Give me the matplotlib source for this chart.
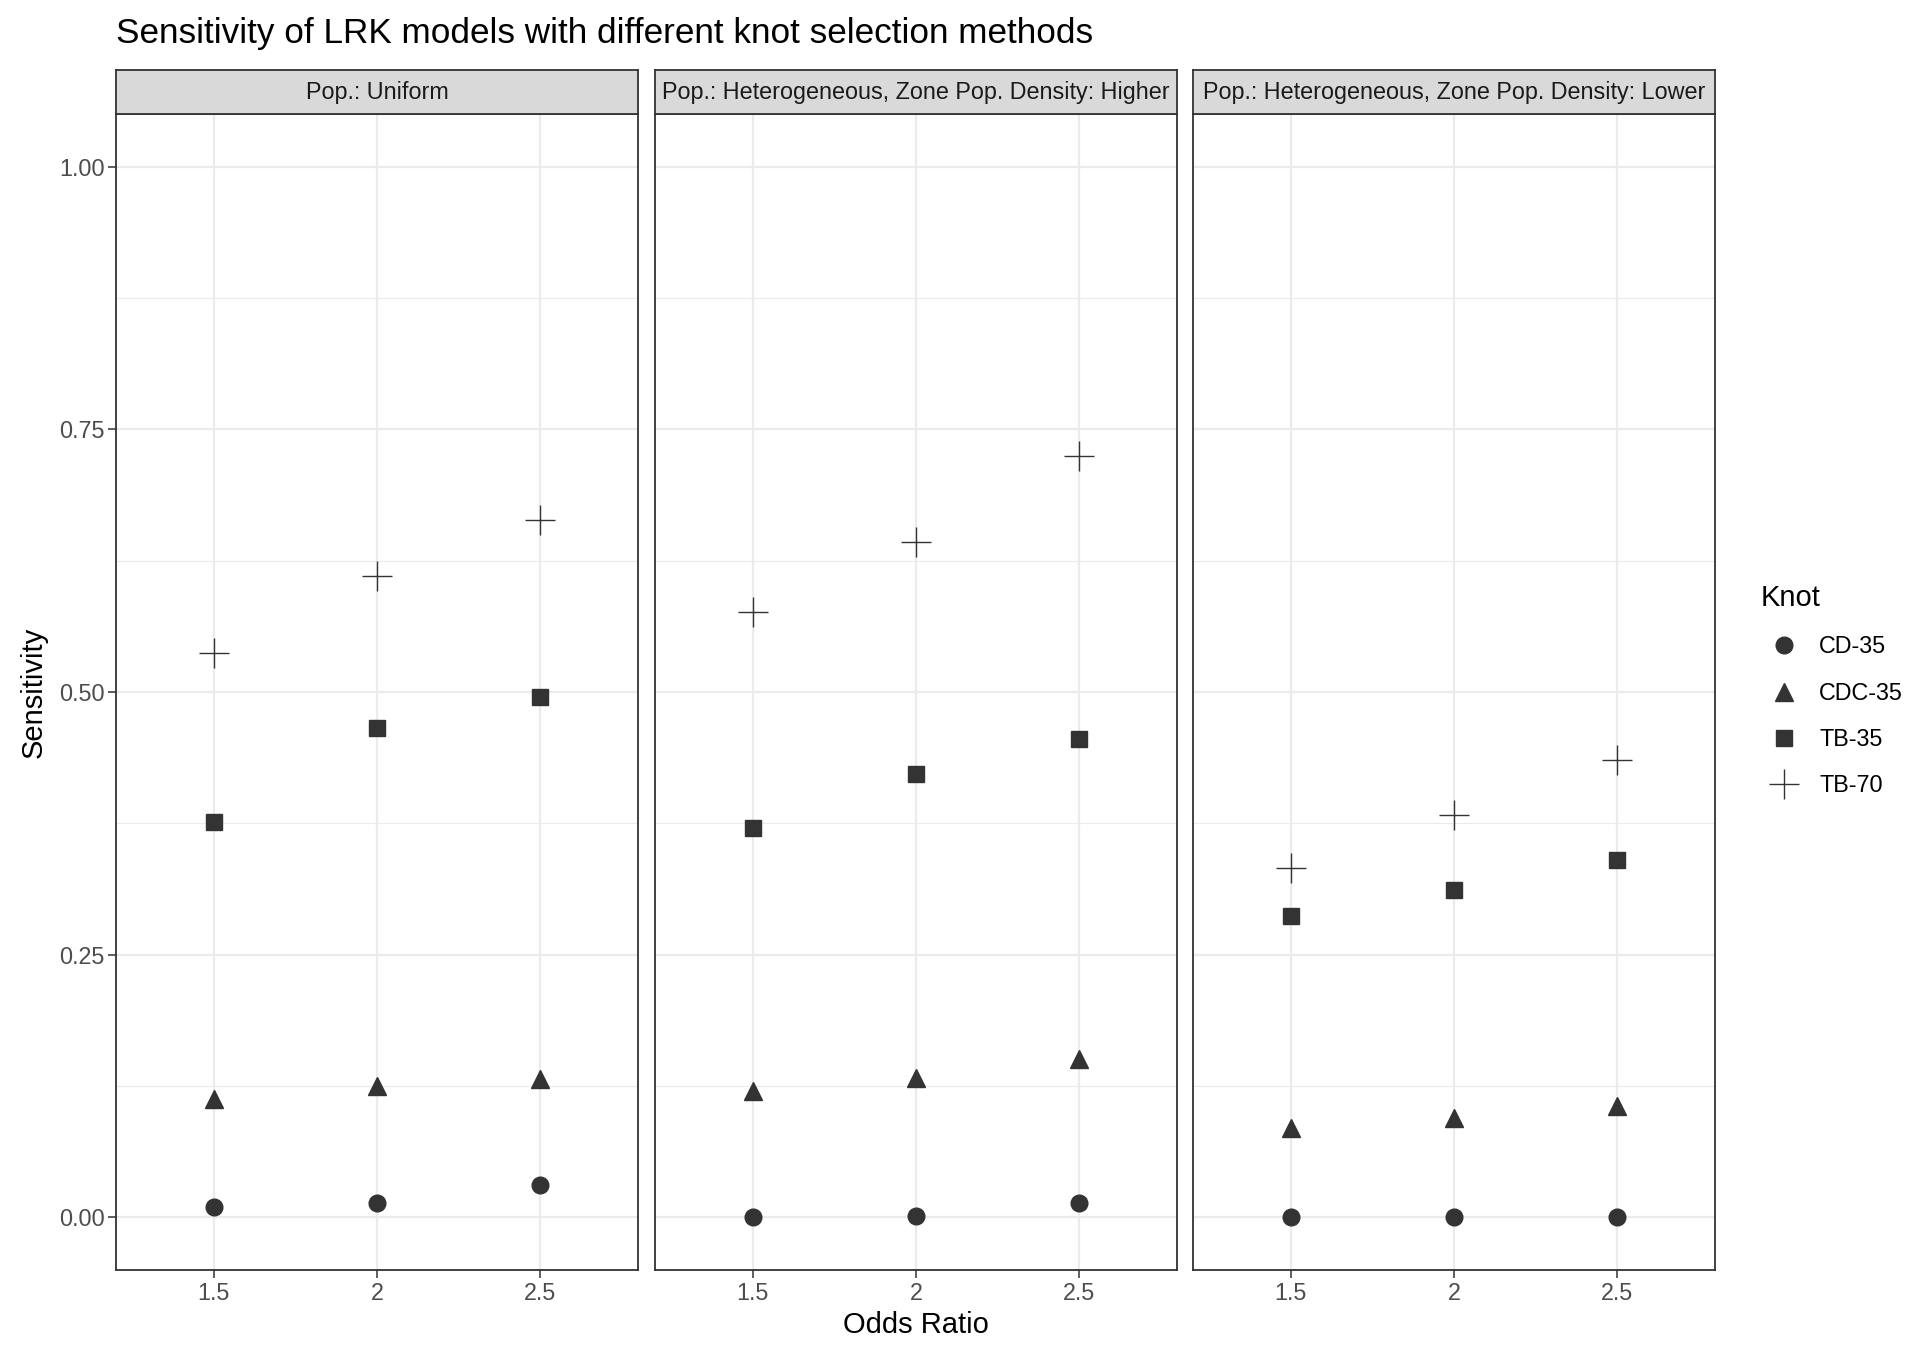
import numpy as np
import matplotlib
matplotlib.use('Agg')
import matplotlib.pyplot as plt
from matplotlib.lines import Line2D

plt.rcParams['font.family'] = ['Liberation Sans', 'DejaVu Sans']

odds = ['1.5', '2', '2.5']
panels = ['Pop.: Uniform',
          'Pop.: Heterogeneous, Zone Pop. Density: Higher',
          'Pop.: Heterogeneous, Zone Pop. Density: Lower']
knots = ['CD-35', 'CDC-35', 'TB-35', 'TB-70']

# sensitivity per panel, per knot, per odds ratio
cd35 = [[0.010, 0.014, 0.031], [0.000, 0.001, 0.014], [0.000, 0.000, 0.000]]
cdc35 = [[0.113, 0.125, 0.132], [0.120, 0.133, 0.151], [0.085, 0.095, 0.106]]
tb35 = [[0.376, 0.466, 0.495], [0.371, 0.422, 0.455], [0.287, 0.312, 0.340]]
tb70 = [[0.537, 0.610, 0.664], [0.576, 0.643, 0.725], [0.333, 0.383, 0.435]]

series = [cd35, cdc35, tb35, tb70]
mk = {'CD-35': dict(marker='o', ms=12),
      'CDC-35': dict(marker='^', ms=13),
      'TB-35': dict(marker='s', ms=11.5),
      'TB-70': dict(marker='+', ms=22, mew=1.0)}
col = '#333333'

fig = plt.figure(figsize=(19.2, 13.54), dpi=100)
lefts = [116, 655, 1193]
pw = 522
top = 114
bot = 1270
W, H = 1920, 1354
fs_tick = 16.8

for i in range(3):
    ax = fig.add_axes([lefts[i] / W, 1 - bot / H, pw / W, (bot - top) / H])
    x = np.arange(len(odds))
    ax.set_xlim(-0.6, 2.6)
    ax.set_ylim(-0.05, 1.05)
    for k, s in zip(knots, series):
        ax.plot(x, s[i], linestyle='none', color=col, mec=col, **mk[k])
    ax.set_xticks(x)
    ax.set_xticklabels(odds)
    ax.set_yticks([0, 0.25, 0.5, 0.75, 1.0])
    ax.set_yticks([0.125, 0.375, 0.625, 0.875], minor=True)
    ax.grid(True, which='major', color='#EBEBEB', lw=1.6)
    ax.grid(True, which='minor', axis='y', color='#EBEBEB', lw=0.8)
    ax.set_axisbelow(True)
    for sp in ax.spines.values():
        sp.set_color('#333333')
        sp.set_linewidth(1.3)
    ax.tick_params(axis='x', which='major', length=6, width=1.1, color='#333333',
                   labelsize=fs_tick, labelcolor='#4D4D4D', pad=3)
    ax.tick_params(axis='y', which='minor', length=0)
    if i == 0:
        ax.set_yticklabels(['0.00', '0.25', '0.50', '0.75', '1.00'])
        ax.tick_params(axis='y', which='major', length=6, width=1.1, color='#333333',
                       labelsize=fs_tick, labelcolor='#4D4D4D', pad=2)
    else:
        ax.tick_params(axis='y', which='major', length=0, labelleft=False)

    # strip
    sax = fig.add_axes([lefts[i] / W, 1 - top / H, pw / W, (top - 70) / H])
    sax.set_facecolor('#D9D9D9')
    sax.set_xticks([])
    sax.set_yticks([])
    for sp in sax.spines.values():
        sp.set_color('#333333')
        sp.set_linewidth(1.3)
    sax.text(0.5, 0.5, panels[i], ha='center', va='center', fontsize=16.8,
             color='#1A1A1A', transform=sax.transAxes)

fig.text(116 / W, 1 - 34 / H, 'Sensitivity of LRK models with different knot selection methods',
         ha='left', va='center', fontsize=25.3, color='black')
fig.text(916 / W, 1 - 1325 / H, 'Odds Ratio', ha='center', va='center', fontsize=21)
fig.text(34 / W, 1 - 692 / H, 'Sensitivity', ha='center', va='center', fontsize=21,
         rotation=90)

handles = [Line2D([], [], linestyle='none', color=col, mec=col, **mk[k]) for k in knots]
leg = fig.legend(handles, knots, title='Knot', loc='upper left',
                 bbox_to_anchor=(1740 / W, 1 - 563 / H), frameon=False,
                 fontsize=16.8, title_fontsize=21, labelspacing=1.0,
                 handletextpad=0.5, alignment='left')

fig.savefig('out.png', dpi=100, facecolor='white')
